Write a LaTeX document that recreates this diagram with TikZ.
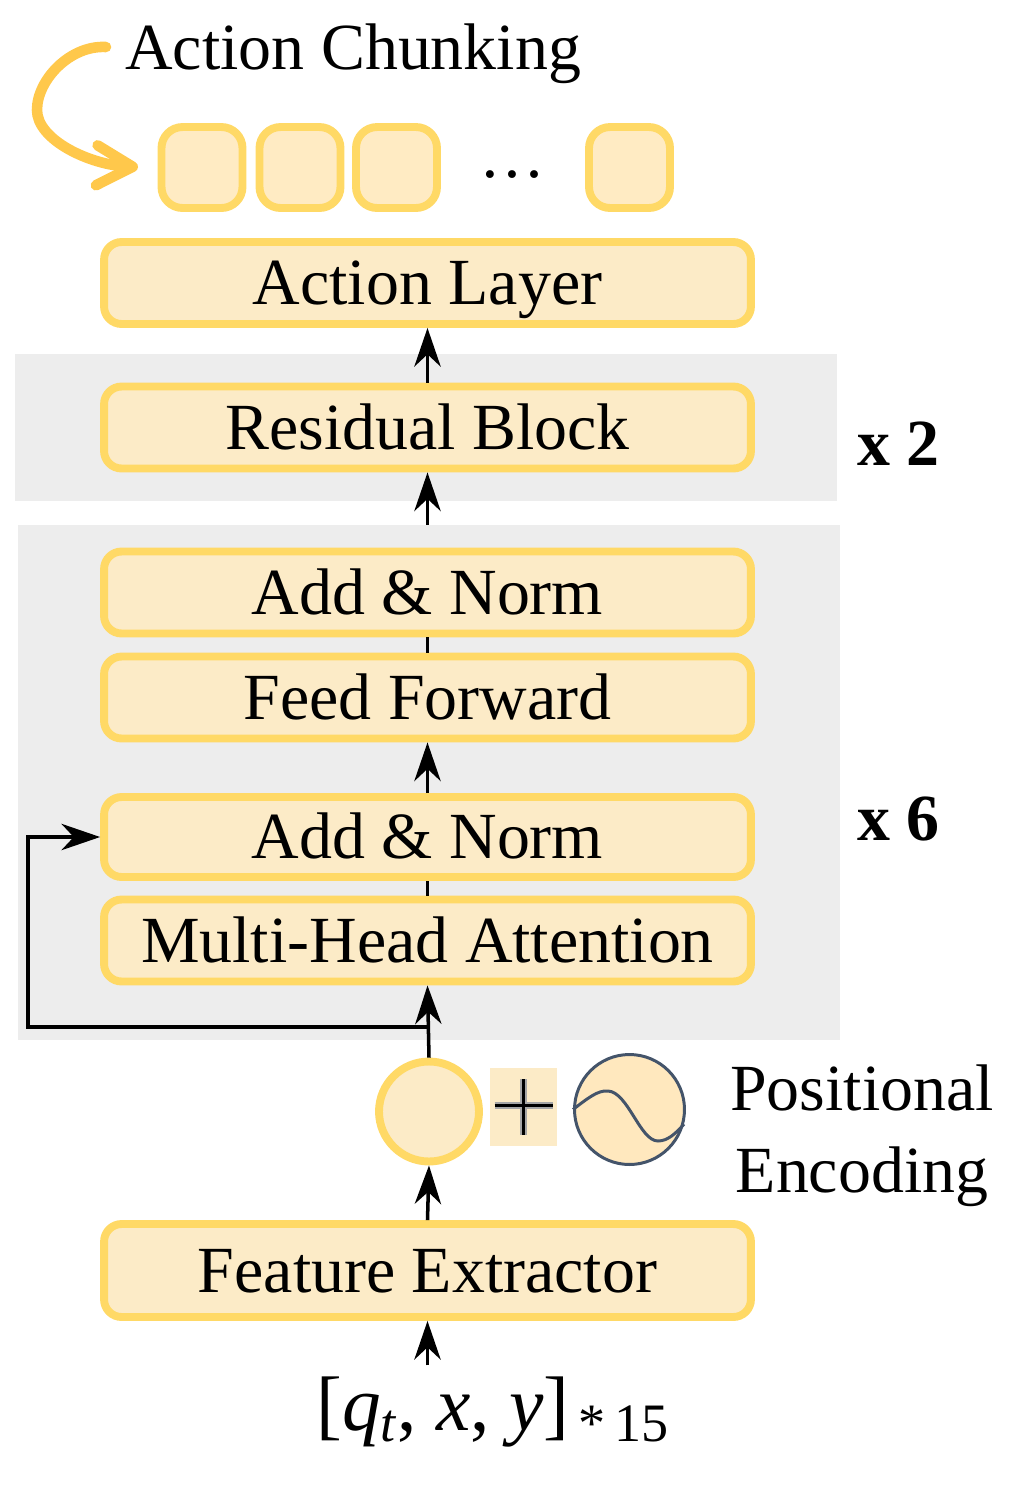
\RequirePackage{fix-cm}
\documentclass[tikz,border=0pt]{standalone}
\usepackage{fontspec}
\setmainfont{Liberation Serif}
\usetikzlibrary{arrows.meta,calc,positioning}
\definecolor{ylw}{RGB}{255,217,102}
\definecolor{ylwfill}{RGB}{252,235,199}
\definecolor{chunkfill}{RGB}{255,235,195}
\definecolor{encgray}{RGB}{237,237,237}
\definecolor{pecol}{RGB}{68,84,106}
\definecolor{pefill}{RGB}{255,232,190}
\definecolor{curlcol}{RGB}{255,200,75}
\tikzset{blk/.style={draw=ylw, line width=4.5pt, fill=ylwfill, rounded corners=10pt, minimum width=12.94cm,
    minimum height=1.64cm, text height=24.7pt, text depth=0pt, inner sep=0pt},
  chunk/.style={draw=ylw, line width=4.5pt, fill=chunkfill, rounded corners=12pt, minimum width=1.62cm,
    minimum height=1.62cm, inner sep=0pt},
  bg/.style={fill=encgray, inner sep=0pt},
  flow/.style={-{Stealth[length=22pt, width=15pt, inset=7pt]}, line width=2pt},
  link/.style={line width=2pt},
  curl/.style={draw=curlcol, line width=6pt, line cap=round, -{Straight Barb[length=0.72cm, width=0.8cm, round]}},
  rep/.style={font=\fontsize{37.5}{45}\selectfont\bfseries, anchor=base west, inner sep=0pt}}

\begin{document}
\begin{tikzpicture}[x=0.02cm, y=-0.02cm, font=\fontsize{37.5}{45}\selectfont]
  \useasboundingbox (0,0) rectangle (1010,1489);
  % shaded repeat groups
  \node[bg, minimum width=16.44cm, minimum height=2.94cm] (dec) at (426,427.5) {};
  \node[bg, minimum width=16.44cm, minimum height=10.3cm] (enc) at (429,782.5) {};
  % main stack
  \node[blk] (act) at (427.5,283) {Action Layer};
  \node[blk] (res) at (427.5,427.5) {Residual Block};
  \node[blk] (an2) at (427.5,592.5) {Add \& Norm};
  \node[blk] (ff) at (427.5,697.5) {Feed Forward};
  \node[blk, minimum height=1.6cm] (an1) at (427.5,837) {Add \& Norm};
  \node[blk] (mha) at (427.5,940.5) {Multi-Head Attention};
  \node[blk, minimum height=1.86cm] (fe) at (427.5,1270.5) {Feature Extractor};
  % action chunks
  \foreach \cx/\cn in {202/c1, 300/c2, 396.5/c3, 629.5/c4}
    \node[chunk] (\cn) at (\cx,167.5) {};
  \node[anchor=base, inner sep=0pt] (dots) at (512,177) {…};
  \node[anchor=base west, inner sep=0pt] (title) at (125,69) {Action Chunking};
  \coordinate (cstart) at (106,47);
  \coordinate (ctip) at (138,167);
  \draw[curl] (cstart) .. controls (70,45) and (37,80) .. (37,110) .. controls (37,140) and (90,165) .. (ctip);
  % positional encoding
  \node[circle, draw=ylw, line width=4.5pt, fill=ylwfill, minimum size=2cm, inner sep=0pt] (addc) at (429,1111.5) {};
  \node[fill=ylwfill, minimum width=1.36cm, minimum height=1.56cm, inner sep=0pt] (plus) at (523.5,1107) {};
  \draw[black!35, line width=4pt] ($(plus.center)+(-29,-1.5)$) -- ($(plus.center)+(29,-1.5)$);
  \draw[black!35, line width=4pt] ($(plus.center)+(0,-28)$) -- ($(plus.center)+(0,28)$);
  \draw[line width=2pt] ($(plus.center)+(-29,-1.5)$) -- ($(plus.center)+(29,-1.5)$);
  \draw[line width=2pt] ($(plus.center)+(0,-28)$) -- ($(plus.center)+(0,28)$);
  \node[circle, draw=pecol, line width=1.7pt, fill=pefill, minimum size=2.2cm, inner sep=0pt] (pe) at (629.5,1109.5) {};
  \draw[draw=pecol, line width=1.7pt] (pe.west) .. controls (588,1098) and (598,1090) .. (608,1091)
    .. controls (628,1092) and (640,1141) .. (658,1141) .. controls (668,1141) and (676,1133) .. (pe.-15);
  \node[align=center, font=\fontsize{37.5}{46.6}\selectfont] (petxt) at (862,1136) {Positional\\Encoding};
  % repeat counts
  \node[rep] (rep2) at (857,465) {x 2};
  \node[rep] (rep6) at (857,840) {x 6};
  % input
  \node[anchor=base, inner xsep=0pt, inner ysep=6pt, font=\fontsize{44}{50}\selectfont] (inp) at (493,1430)
    {[\textit{q}\textsubscript{\textit{t}}, \textit{x}, \textit{y}]\textsubscript{\,*\,15}};
  % connectors
  \draw[flow] (inp.north -| fe.south) -- (fe.south);
  \draw[flow] (fe.north) -- (addc.south);
  \draw[flow] (addc.north) -- (mha.south);
  \draw[link] (mha.north) -- (an1.south);
  \draw[flow] (an1.north) -- (ff.south);
  \draw[link] (ff.north) -- (an2.south);
  \draw[flow] (an2.north |- enc.north) -- (res.south);
  \draw[flow] (res.north) -- (act.south);
  % residual skip
  \coordinate (sk1) at (428,1027);
  \coordinate (sk2) at (28,1027);
  \draw[flow] (sk1) -- (sk2) |- (an1.west);
\end{tikzpicture}
\end{document}
